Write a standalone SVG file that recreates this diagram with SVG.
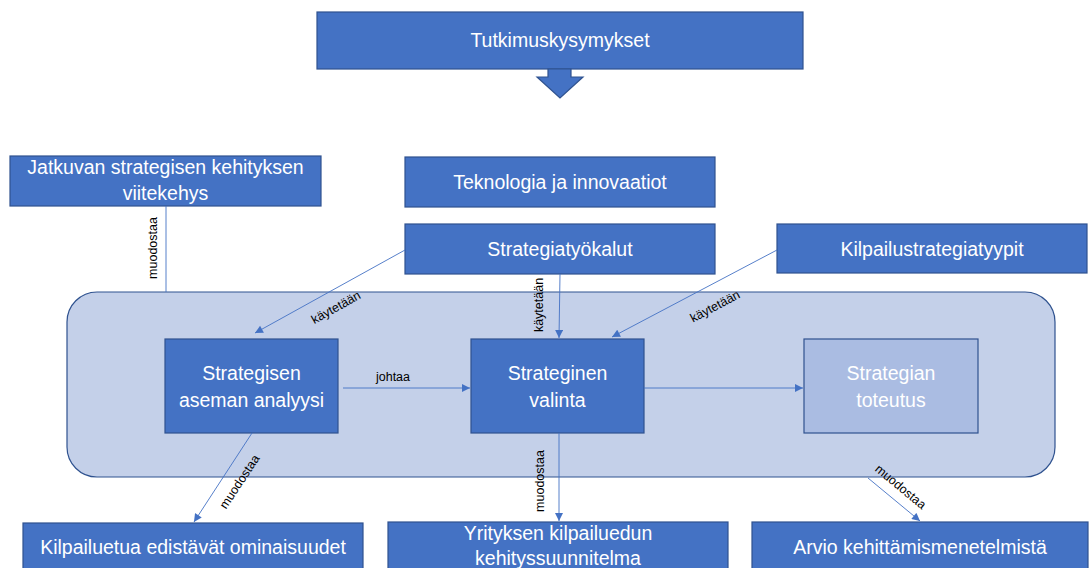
<svg xmlns="http://www.w3.org/2000/svg" width="1090" height="568" viewBox="0 0 1090 568">
<defs>
<style>
.box{fill:#4472C4;stroke:#2F528F;stroke-width:1.2}
.lite{fill:#AABCE2;stroke:#2F528F;stroke-width:1.2}
.cont{fill:#C4D0E9;stroke:#2F528F;stroke-width:1.2}
.t{font-family:"Liberation Sans",Arial,sans-serif;font-size:19.5px;fill:#fff;text-anchor:middle}
.l{font-family:"Liberation Sans",Arial,sans-serif;font-size:12.5px;fill:#000;text-anchor:middle}
.c{fill:none;stroke:#4472C4;stroke-width:0.9}
</style>
<marker id="ah" viewBox="0 0 10 10" refX="10" refY="5" markerWidth="9" markerHeight="8" markerUnits="userSpaceOnUse" orient="auto">
<path d="M0,0 L10,5 L0,10 Z" fill="#4472C4"/>
</marker>
</defs>
<rect width="1090" height="568" fill="#fff"/>

<g id="container">
<rect class="cont" x="67" y="292" width="988" height="185" rx="30" ry="30"/>
</g>

<g id="n-tutkimus">
<rect class="box" x="317" y="12" width="486" height="57"/>
<text class="t" x="560" y="47">Tutkimuskysymykset</text>
<polygon class="box" points="548,69 571,69 571,77 583,77 560,98 537,77 548,77"/>
</g>

<g id="n-jatkuvan">
<rect class="box" x="10" y="156" width="311" height="50"/>
<text class="t" x="165.5" y="174">Jatkuvan strategisen kehityksen</text>
<text class="t" x="165.5" y="200">viitekehys</text>
</g>

<g id="n-teknologia">
<rect class="box" x="405" y="157" width="310" height="50"/>
<text class="t" x="560" y="189">Teknologia ja innovaatiot</text>
</g>

<g id="n-tyokalut">
<rect class="box" x="405" y="224" width="310" height="50"/>
<text class="t" x="560" y="256">Strategiatyökalut</text>
</g>

<g id="n-kilpailustrategiat">
<rect class="box" x="777" y="224" width="310" height="49"/>
<text class="t" x="932" y="256">Kilpailustrategiatyypit</text>
</g>

<g id="n-analyysi">
<rect class="box" x="165" y="339" width="173" height="94"/>
<text class="t" x="251.5" y="380">Strategisen</text>
<text class="t" x="251.5" y="407">aseman analyysi</text>
</g>

<g id="n-valinta">
<rect class="box" x="471" y="339" width="173" height="94"/>
<text class="t" x="557.5" y="380">Strateginen</text>
<text class="t" x="557.5" y="407">valinta</text>
</g>

<g id="n-toteutus">
<rect class="lite" x="804" y="339" width="174" height="94"/>
<text class="t" x="891" y="380">Strategian</text>
<text class="t" x="891" y="407">toteutus</text>
</g>

<g id="n-kilpailuetua">
<rect class="box" x="23" y="523" width="340" height="55"/>
<text class="t" x="193" y="554">Kilpailuetua edistävät ominaisuudet</text>
</g>

<g id="n-yrityksen">
<rect class="box" x="388" y="522" width="340" height="56"/>
<text class="t" x="558" y="540">Yrityksen kilpailuedun</text>
<text class="t" x="558" y="565">kehityssuunnitelma</text>
</g>

<g id="n-arvio">
<rect class="box" x="752" y="522" width="336" height="56"/>
<text class="t" x="920" y="554">Arvio kehittämismenetelmistä</text>
</g>

<g id="connectors">
<line class="c" x1="166" y1="206" x2="166" y2="292"/>
<text class="l" transform="translate(157,248) rotate(-90)">muodostaa</text>

<line class="c" x1="405" y1="250" x2="255" y2="333" marker-end="url(#ah)"/>
<text class="l" transform="translate(338,311) rotate(-29)">käytetään</text>

<line class="c" x1="560" y1="274" x2="559" y2="338" marker-end="url(#ah)"/>
<text class="l" transform="translate(543,305) rotate(-90)">käytetään</text>

<line class="c" x1="777" y1="250" x2="612" y2="337" marker-end="url(#ah)"/>
<text class="l" transform="translate(717,310) rotate(-28)">käytetään</text>

<line class="c" x1="343" y1="388" x2="470" y2="388" marker-end="url(#ah)"/>
<text class="l" x="393" y="381">johtaa</text>

<line class="c" x1="644" y1="388" x2="803" y2="388" marker-end="url(#ah)"/>

<line class="c" x1="252" y1="433" x2="194" y2="522" marker-end="url(#ah)"/>
<text class="l" transform="translate(243,484) rotate(-56.6)">muodostaa</text>

<line class="c" x1="559" y1="433" x2="559" y2="521" marker-end="url(#ah)"/>
<text class="l" transform="translate(544,481) rotate(-90)">muodostaa</text>

<line class="c" x1="868" y1="478" x2="920" y2="521" marker-end="url(#ah)"/>
<text class="l" transform="translate(898,490) rotate(39.6)">muodostaa</text>
</g>
</svg>
